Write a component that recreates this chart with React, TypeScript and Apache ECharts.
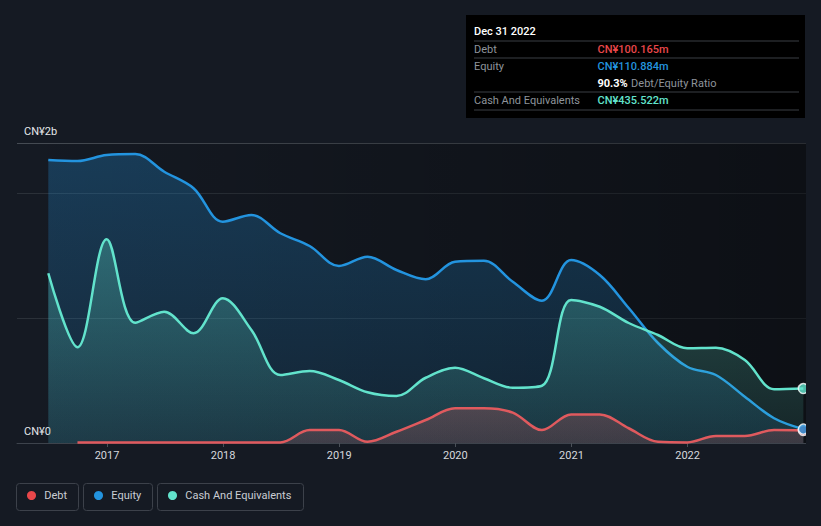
import React, { useEffect, useRef } from 'react';
import * as echarts from 'echarts';

// Quarter-end reporting dates
const quarterEnds = [
  '2016-06-30', '2016-09-30', '2016-12-31',
  '2017-03-31', '2017-06-30', '2017-09-30', '2017-12-31',
  '2018-03-31', '2018-06-30', '2018-09-30', '2018-12-31',
  '2019-03-31', '2019-06-30', '2019-09-30', '2019-12-31',
  '2020-03-31', '2020-06-30', '2020-09-30', '2020-12-31',
  '2021-03-31', '2021-06-30', '2021-09-30', '2021-12-31',
  '2022-03-31', '2022-06-30', '2022-09-30', '2022-12-31',
];

// Values in CN¥ millions
const debtM: (number | null)[] = [
  null, 5, 5, 5, 5, 5, 5, 5, 5, 104, 104, 10, 90, 184, 278, 278, 243, 104,
  229, 229, 118, 10, 5, 56, 56, 104, 100.165,
];
const equityM: number[] = [
  2264, 2256, 2304, 2312, 2170, 2038, 1770, 1824, 1678, 1576, 1416, 1490, 1384,
  1310, 1450, 1458, 1290, 1138, 1464, 1344, 1080, 800, 610, 544, 370, 198, 110.884,
];
const cashM: number[] = [
  1358, 766, 1630, 962, 1050, 878, 1158, 904, 544, 576, 504, 406, 376, 522, 602,
  518, 442, 458, 1144, 1090, 960, 864, 758, 762, 664, 430, 435.522,
];

const xTickYears = [2017, 2018, 2019, 2020, 2021, 2022];
const yTickValues = [0, 2.4e9];
const yTickLabels = ['CN¥0', 'CN¥2b'];
const seriesNames = ['Debt', 'Equity', 'Cash And Equivalents'];
const seriesColors = ['#e05a5e', '#2394df', '#62e3cc'];
const legendDotColors = ['#e8474a', '#2394df', '#62e3cc'];
const tooltipDate = 'Dec 31 2022';

const X_MIN = 2016.225;
const X_MAX = 2023.02;
const Y_MAX = 2.4e9;
const BG = '#151a23';

const toYear = (s: string) => {
  const [y, m, d] = s.split('-').map(Number);
  const t = Date.UTC(y, m - 1, d);
  const a = Date.UTC(y, 0, 1);
  const b = Date.UTC(y + 1, 0, 1);
  return y + (t - a) / (b - a);
};

const toPairs = (arr: (number | null)[]) =>
  arr.map((v, i) => [toYear(quarterEnds[i]), v == null ? null : v * 1e6]);

const FONT = 'Roboto, "Noto Sans", sans-serif';

export default function App() {
  const ref = useRef<HTMLDivElement>(null);

  useEffect(() => {
    if (!ref.current) return;
    const chart = echarts.init(ref.current, undefined, { renderer: 'svg' });
    const last = quarterEnds.length - 1;
    const lastX = toYear(quarterEnds[last]);
    const dLast = debtM[last] as number;
    const eLast = equityM[last];
    const cLast = cashM[last];
    const ratio = ((dLast / eLast) * 100).toFixed(1) + '%';

    const areaGrad = (rgb: string, a0: number, a1: number) =>
      new echarts.graphic.LinearGradient(0, 0, 0, 1, [
        { offset: 0, color: `rgba(${rgb},${a0})` },
        { offset: 1, color: `rgba(${rgb},${a1})` },
      ]);

    const lineSeries = (name: string, data: any[], color: string, area: any, z: number) => ({
      name,
      type: 'line',
      data,
      smooth: 0.35,
      showSymbol: false,
      symbol: 'none',
      connectNulls: false,
      lineStyle: { color, width: 2.5 },
      itemStyle: { color },
      areaStyle: { color: area, opacity: 1 },
      z,
    });

    const rowLabel = (text: string, y: number) => ({
      type: 'text', x: 8, y,
      style: { text, fill: '#8e949b', font: `11px ${FONT}`, verticalAlign: 'middle' },
    });
    const rowValue = (text: string, y: number, color: string) => ({
      type: 'text', x: 131.5, y,
      style: { text, fill: color, font: `500 11px ${FONT}`, verticalAlign: 'middle' },
    });
    const sep = (y: number) => ({
      type: 'line', shape: { x1: 8, y1: y, x2: 333, y2: y },
      style: { stroke: '#3b3e44', lineWidth: 1 },
    });

    const legendBoxes = [
      { x: 16.5, w: 62 },
      { x: 83.5, w: 69 },
      { x: 157.5, w: 146 },
    ];
    const legendElems: any[] = [];
    seriesNames.forEach((n, i) => {
      const b = legendBoxes[i];
      legendElems.push({
        type: 'rect',
        shape: { x: b.x, y: 483.5, width: b.w, height: 27, r: 3 },
        style: { fill: 'transparent', stroke: '#3c414a', lineWidth: 1 },
      });
      legendElems.push({
        type: 'circle',
        shape: { cx: b.x + 15, cy: 495.5, r: 4.5 },
        style: { fill: legendDotColors[i] },
      });
      legendElems.push({
        type: 'text', x: b.x + 27.8, y: 495.5,
        style: { text: n, fill: '#c9cdd3', font: `11px ${FONT}`, verticalAlign: 'middle' },
      });
    });

    chart.setOption({
      animation: false,
      backgroundColor: BG,
      grid: { left: 17, right: 15, top: 143, bottom: 83, containLabel: false },
      xAxis: {
        type: 'value',
        min: X_MIN,
        max: X_MAX,
        splitLine: { show: false },
        axisLine: { show: true, lineStyle: { color: '#3d434c', width: 1 } },
        axisTick: {
          show: true,
          length: 4,
          customValues: xTickYears,
          lineStyle: { color: '#4a5058' },
        },
        axisLabel: {
          customValues: xTickYears,
          formatter: (v: number) => String(Math.round(v)),
          color: '#d5d8dd',
          fontFamily: FONT,
          fontSize: 11,
          margin: 7,
        },
      },
      yAxis: {
        type: 'value',
        min: 0,
        max: Y_MAX,
        interval: 1e9,
        axisLine: { show: false },
        axisTick: { show: false },
        splitLine: {
          show: true,
          lineStyle: { color: ['#3d434c', '#2b3139', '#2b3139', '#454b53'], width: 1 },
        },
        axisLabel: {
          inside: true,
          showMaxLabel: true,
          showMinLabel: true,
          margin: 7,
          verticalAlign: 'bottom',
          padding: [0, 0, 6, 0],
          color: '#e6e8eb',
          fontFamily: FONT,
          fontSize: 11,
          formatter: (v: number) => {
            const i = yTickValues.indexOf(v);
            return i >= 0 ? yTickLabels[i] : '';
          },
        },
      },
      series: [
        {
          type: 'line',
          data: [],
          silent: true,
          z: 1,
          markArea: {
            silent: true,
            itemStyle: {
              color: new echarts.graphic.LinearGradient(0, 0, 1, 0, [
                { offset: 0, color: 'rgba(0,0,0,0)' },
                { offset: 0.1, color: 'rgba(0,0,0,0.05)' },
                { offset: 1, color: 'rgba(0,0,0,0.4)' },
              ]),
            },
            data: [[{ xAxis: X_MIN, yAxis: 0 }, { xAxis: X_MAX, yAxis: Y_MAX }]],
          },
        },
        lineSeries(seriesNames[1], toPairs(equityM), seriesColors[1], areaGrad('35,148,223', 0.28, 0.12), 2),
        lineSeries(seriesNames[2], toPairs(cashM), seriesColors[2], areaGrad('98,227,204', 0.3, 0.1), 3),
        lineSeries(seriesNames[0], toPairs(debtM), seriesColors[0], areaGrad('224,90,94', 0.25, 0.18), 4),
        {
          type: 'scatter',
          z: 6,
          symbol: 'circle',
          symbolSize: 10,
          data: [
            { value: [lastX, dLast * 1e6], itemStyle: { color: seriesColors[0], borderColor: '#ffffff', borderWidth: 1.5 } },
            { value: [lastX, eLast * 1e6], itemStyle: { color: seriesColors[1], borderColor: '#ffffff', borderWidth: 1.5 } },
            { value: [lastX, cLast * 1e6], itemStyle: { color: seriesColors[2], borderColor: '#ffffff', borderWidth: 1.5 } },
          ],
        },
      ],
      graphic: [
        // right margin mask so the end markers are cut at the plot edge
        {
          type: 'rect', z: 50, silent: true,
          shape: { x: 806, y: 130, width: 15, height: 320 },
          style: { fill: BG },
        },
        {
          type: 'group',
          x: 466,
          y: 15,
          z: 100,
          children: [
            { type: 'rect', shape: { x: 0, y: 0, width: 339, height: 103 }, style: { fill: '#000000' } },
            {
              type: 'text', x: 8, y: 16,
              style: { text: tooltipDate, fill: '#ffffff', font: `500 11px ${FONT}`, verticalAlign: 'middle' },
            },
            sep(26),
            rowLabel(seriesNames[0], 34),
            rowValue(`CN¥${dLast.toFixed(3)}m`, 34, '#e8474a'),
            sep(43),
            rowLabel(seriesNames[1], 51.5),
            rowValue(`CN¥${eLast.toFixed(3)}m`, 51.5, '#2394df'),
            {
              type: 'text', x: 131.5, y: 68.5,
              style: {
                text: `{b|${ratio}} {n|Debt/Equity Ratio}`,
                verticalAlign: 'middle',
                rich: {
                  b: { fill: '#ffffff', font: `bold 11px ${FONT}` },
                  n: { fill: '#8e949b', font: `11px ${FONT}` },
                },
              },
            },
            sep(77),
            rowLabel(seriesNames[2], 85.5),
            rowValue(`CN¥${cLast.toFixed(3)}m`, 85.5, '#62e3cc'),
            sep(95),
          ],
        },
        { type: 'group', z: 100, children: legendElems },
      ],
    });

    return () => chart.dispose();
  }, []);

  return (
    <div
      ref={ref}
      style={{ position: 'fixed', left: 0, top: 0, width: 821, height: 526, background: BG }}
    />
  );
}
